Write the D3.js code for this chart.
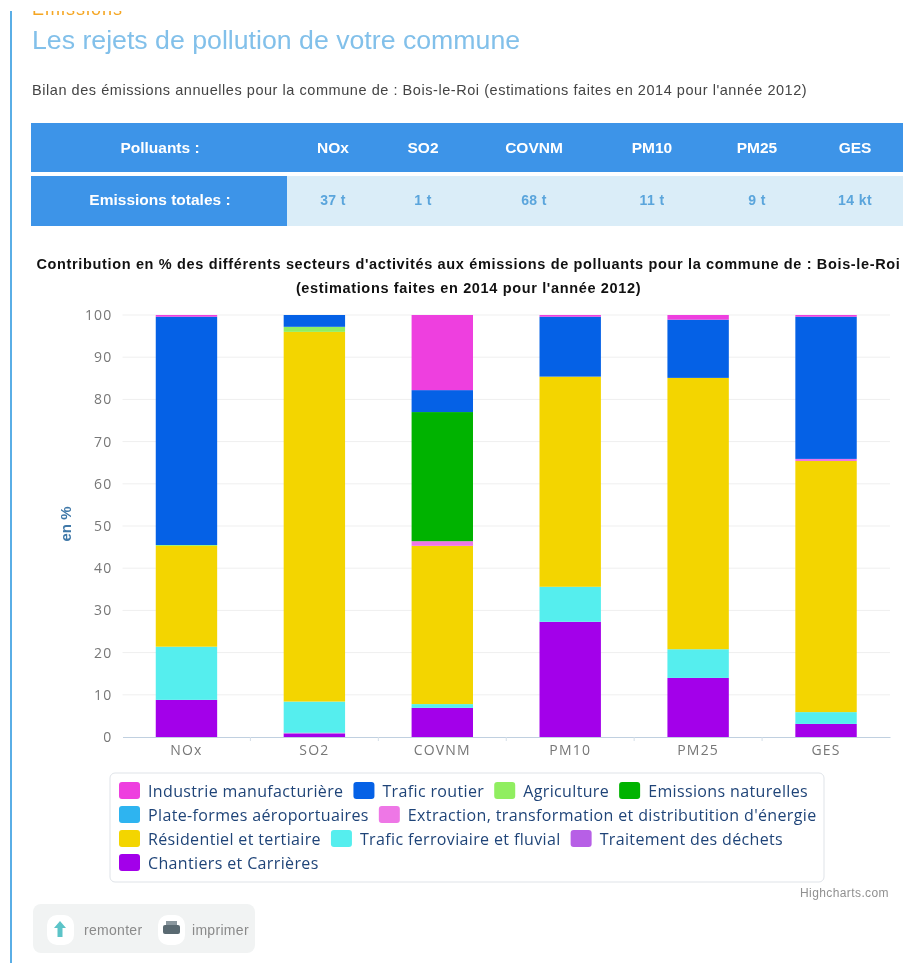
<!DOCTYPE html>
<html>
<head>
<meta charset="utf-8">
<script src="https://cdn.jsdelivr.net/npm/d3@7"></script>
<style>
html, body { margin: 0; padding: 0; background: #fff; overflow: hidden; }
svg { display: block; filter: blur(0.5px); }
text { font-family: "Liberation Sans", Arial, sans-serif; }
.legend text { font-family: "Open Sans", sans-serif; font-size: 16px; letter-spacing: 0.36px; fill: #1f4478; }
.axis text { font-family: "Open Sans", sans-serif; font-size: 14px; letter-spacing: 1.2px; fill: #777; }
</style>
</head>
<body>
<svg id="page" width="909" height="963"></svg>
<script>
var pollutants = ["NOx", "SO2", "COVNM", "PM10", "PM25", "GES"];
var totals = ["37 t", "1 t", "68 t", "11 t", "9 t", "14 kt"];
var yTicks = [0, 10, 20, 30, 40, 50, 60, 70, 80, 90, 100];

// stack order, top of the bar first
var sectors = ["Industrie manufacturière", "Trafic routier", "Agriculture", "Emissions naturelles",
  "Plate-formes aéroportuaires", "Extraction, transformation et distributition d'énergie",
  "Résidentiel et tertiaire", "Trafic ferroviaire et fluvial", "Traitement des déchets", "Chantiers et Carrières"];
var colors = ["#ee3fdf", "#0561e6", "#90ee60", "#00b300", "#2eb4f0", "#ee77e6", "#f3d500", "#55eeee", "#b75fe6", "#a300ea"];

var industrie   = [0.4, 0, 17.8, 0.4, 1.1, 0.4];
var routier     = [54.1, 2.8, 5.2, 14.2, 13.8, 33.7];
var agriculture = [0.2, 1.2, 0, 0, 0, 0];
var naturelles  = [0, 0, 30.6, 0, 0, 0];
var aeroports   = [0, 0, 0, 0, 0, 0];
var extraction  = [0, 0, 1.1, 0, 0, 0.5];
var residentiel = [23.9, 87.6, 37.5, 49.8, 64.3, 59.5];
var ferroviaire = [12.6, 7.4, 0.9, 8.3, 6.8, 2.8];
var dechets     = [0, 0.2, 0, 0, 0, 0];
var chantiers   = [8.8, 0.8, 6.9, 27.3, 14, 3.1];

var seriesValues = [industrie, routier, agriculture, naturelles, aeroports, extraction,
  residentiel, ferroviaire, dechets, chantiers];

var svg = d3.select("#page");

//=============================================================
// page header

svg.append("rect").attr("x", 10).attr("y", 11).attr("width", 2).attr("height", 952).attr("fill", "#5aaee6");

// the crumb above the title is cut off by the top of the screenshot
svg.append("clipPath").attr("id", "crumb").append("rect")
  .attr("x", 0).attr("y", 11).attr("width", 300).attr("height", 20);
svg.append("text").attr("x", 32).attr("y", 15).attr("font-size", 18).attr("letter-spacing", 1)
  .attr("fill", "#f5a623").attr("clip-path", "url(#crumb)").text("Emissions");

svg.append("text").attr("x", 32).attr("y", 49).attr("font-size", 26.7).attr("fill", "#82c0ea")
  .text("Les rejets de pollution de votre commune");

svg.append("text").attr("x", 32).attr("y", 95).attr("font-size", 14.5).attr("letter-spacing", 0.55).attr("fill", "#444")
  .text("Bilan des émissions annuelles pour la commune de : Bois-le-Roi (estimations faites en 2014 pour l'année 2012)");

//=============================================================
// table

var tableBlue = "#3d94e8";
var colCenters = [333, 423, 534, 652, 757, 855];

svg.append("rect").attr("x", 31).attr("y", 123).attr("width", 872).attr("height", 49).attr("fill", tableBlue);
svg.append("rect").attr("x", 287).attr("y", 176).attr("width", 616).attr("height", 50).attr("fill", "#daedf8");
svg.append("rect").attr("x", 31).attr("y", 176).attr("width", 256).attr("height", 50).attr("fill", tableBlue);

svg.append("text").attr("x", 160).attr("y", 153).attr("text-anchor", "middle")
  .attr("font-size", 15.5).attr("font-weight", "bold").attr("fill", "#fff").text("Polluants :");
svg.append("text").attr("x", 160).attr("y", 205).attr("text-anchor", "middle")
  .attr("font-size", 15.5).attr("font-weight", "bold").attr("fill", "#fff").text("Emissions totales :");

pollutants.forEach(function(p, i) {
  svg.append("text").attr("x", colCenters[i]).attr("y", 153).attr("text-anchor", "middle")
    .attr("font-size", 15.5).attr("font-weight", "bold").attr("fill", "#fff").text(p);
  svg.append("text").attr("x", colCenters[i]).attr("y", 205).attr("text-anchor", "middle")
    .attr("font-size", 14).attr("font-weight", "bold").attr("letter-spacing", 0.4).attr("fill", "#5aa5dc").text(totals[i]);
});

//=============================================================
// chart

svg.append("text").attr("x", 468.5).attr("y", 269).attr("text-anchor", "middle")
  .attr("font-size", 14.5).attr("font-weight", "bold").attr("letter-spacing", 0.65).attr("fill", "#111")
  .text("Contribution en % des différents secteurs d'activités aux émissions de polluants pour la commune de : Bois-le-Roi");
svg.append("text").attr("x", 468.5).attr("y", 293).attr("text-anchor", "middle")
  .attr("font-size", 14.5).attr("font-weight", "bold").attr("letter-spacing", 0.65).attr("fill", "#111")
  .text("(estimations faites en 2014 pour l'année 2012)");

var L = 122.5, R = 890, T = 315, B = 737;

var xScale = d3.scaleBand().domain(pollutants).range([L, R]).paddingInner(0.52).paddingOuter(0.26);
var yScale = d3.scaleLinear().domain([0, 100]).range([B, T]);

var stackRows = pollutants.map(function(p, i) {
  var row = { name: p };
  sectors.forEach(function(s, j) { row[s] = seriesValues[j][i]; });
  return row;
});
// bottom of the stack is the last series
var stacked = d3.stack().keys(sectors.slice().reverse())(stackRows);

var yAxis = d3.axisLeft(yScale).tickValues(yTicks).tickSize(0).tickPadding(10);
var yG = svg.append("g").attr("class", "axis")
  .attr("transform", "translate(" + L + ",0)")
  .call(yAxis);
yG.select(".domain").remove();

svg.append("g").selectAll("line").data(yTicks.slice(1)).enter().append("line")
  .attr("x1", L).attr("x2", R)
  .attr("y1", function(d) { return yScale(d); })
  .attr("y2", function(d) { return yScale(d); })
  .attr("stroke", "#efefef");

svg.append("g").selectAll("g").data(stacked).enter().append("g")
  .attr("fill", function(d) { return colors[sectors.indexOf(d.key)]; })
  .selectAll("rect").data(function(d) { return d; }).enter().append("rect")
  .attr("x", function(d) { return xScale(d.data.name); })
  .attr("width", xScale.bandwidth())
  .attr("y", function(d) { return yScale(d[1]); })
  .attr("height", function(d) { return yScale(d[0]) - yScale(d[1]); });

var xAxis = d3.axisBottom(xScale).tickSize(0).tickPadding(8);
var xG = svg.append("g").attr("class", "axis")
  .attr("transform", "translate(0," + B + ")")
  .call(xAxis);
xG.select(".domain").attr("stroke", "#c0d0e0");

// small ticks sit between the categories
svg.append("g").selectAll("line").data(pollutants.slice(1)).enter().append("line")
  .attr("x1", function(d) { return xScale(d) - xScale.step() * 0.26; })
  .attr("x2", function(d) { return xScale(d) - xScale.step() * 0.26; })
  .attr("y1", B).attr("y2", B + 4)
  .attr("stroke", "#d5dfe8");

svg.append("text").attr("transform", "translate(71,524) rotate(-90)").attr("text-anchor", "middle")
  .attr("font-size", 15).attr("font-weight", "bold").attr("fill", "#3f78a8").text("en %");

//=============================================================
// legend, items flow and wrap like the original

svg.append("rect").attr("x", 110).attr("y", 773).attr("width", 714).attr("height", 109).attr("rx", 5)
  .attr("fill", "#fff").attr("stroke", "#dfe3e8");

var legend = svg.append("g").attr("class", "legend");
var lx = 119, ly = 791;
sectors.forEach(function(s, i) {
  var item = legend.append("g");
  item.append("rect").attr("y", -9).attr("width", 21).attr("height", 17).attr("rx", 3).attr("fill", colors[i]);
  var t = item.append("text").attr("x", 29).attr("y", 6).text(s);
  var w = 29 + t.node().getComputedTextLength();
  if (lx + w > 820) { lx = 119; ly += 24; }
  item.attr("transform", "translate(" + lx + "," + ly + ")");
  lx += w + 10;
});

svg.append("text").attr("x", 889).attr("y", 897).attr("text-anchor", "end")
  .attr("font-size", 12).attr("letter-spacing", 0.4).attr("fill", "#909090").text("Highcharts.com");

//=============================================================
// buttons

svg.append("rect").attr("x", 33).attr("y", 904).attr("width", 222).attr("height", 49).attr("rx", 8).attr("fill", "#f1f3f3");
svg.append("rect").attr("x", 47).attr("y", 915).attr("width", 27).attr("height", 30).attr("rx", 10).attr("fill", "#fff");
svg.append("rect").attr("x", 158).attr("y", 915).attr("width", 27).attr("height", 30).attr("rx", 10).attr("fill", "#fff");
svg.append("path").attr("d", "M60,921 l6,7 h-3.5 v9 h-5 v-9 h-3.5 z").attr("fill", "#5cc4c8");
svg.append("rect").attr("x", 163).attr("y", 925).attr("width", 17).attr("height", 9).attr("rx", 2).attr("fill", "#5a6a72");
svg.append("rect").attr("x", 166).attr("y", 921).attr("width", 11).attr("height", 4).attr("fill", "#8a979e");
svg.append("text").attr("x", 84).attr("y", 935).attr("font-size", 14).attr("letter-spacing", 0.3).attr("fill", "#8a8a8a").text("remonter");
svg.append("text").attr("x", 192).attr("y", 935).attr("font-size", 14).attr("letter-spacing", 0.3).attr("fill", "#8a8a8a").text("imprimer");
</script>
</body>
</html>
